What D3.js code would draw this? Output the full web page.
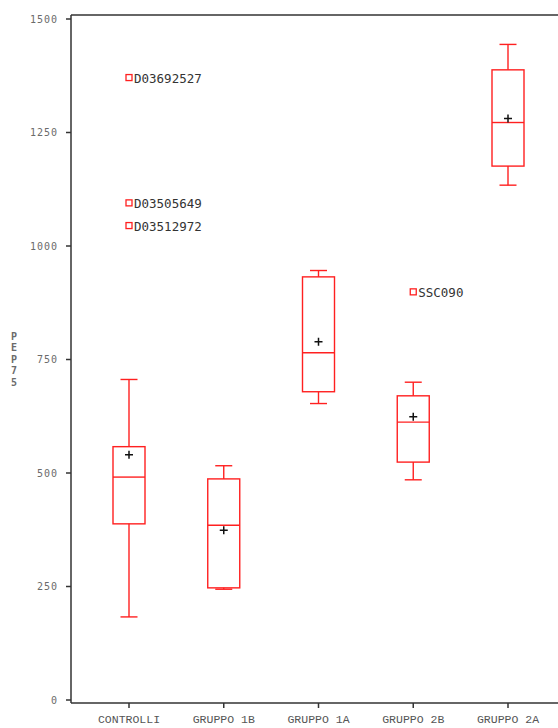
<!DOCTYPE html>
<html>
<head>
<meta charset="utf-8">
<script src="https://cdn.jsdelivr.net/npm/d3@7"></script>
<style>
  body { margin: 0; background: #fff; }
  .tick-label { font-family: "DejaVu Sans Mono", monospace; font-size: 10px; fill: #6b6b6b; letter-spacing: 1px; }
  .cat-label { font-family: "Liberation Mono", monospace; font-size: 11.5px; fill: #555; }
  .out-label { font-family: "DejaVu Sans Mono", monospace; font-size: 12.5px; fill: #333; }
  .ytitle { font-family: "DejaVu Sans Mono", monospace; font-size: 10px; font-weight: bold; fill: #6b6b6b; }
</style>
</head>
<body>
<svg id="chart" width="558" height="728"></svg>
<script>
// data
const groups = ["CONTROLLI", "GRUPPO 1B", "GRUPPO 1A", "GRUPPO 2B", "GRUPPO 2A"];
const whiskerLow = [183, 244, 653, 485, 1134];
const q1 = [388, 247, 679, 524, 1176];
const median = [491, 385, 765, 612, 1272];
const q3 = [558, 487, 932, 670, 1388];
const whiskerHigh = [706, 516, 946, 700, 1444];
const means = [540, 374, 789, 624, 1281];
const outliers = [
  { group: "CONTROLLI", value: 1371, id: "D03692527" },
  { group: "CONTROLLI", value: 1095, id: "D03505649" },
  { group: "CONTROLLI", value: 1045, id: "D03512972" },
  { group: "GRUPPO 2B", value: 899, id: "SSC090" },
];
const yTicks = [0, 250, 500, 750, 1000, 1250, 1500];
const yTitle = "PEP75";

const svg = d3.select("#chart");
const width = +svg.attr("width");
const axisX = 71, axisY = 703, topY = 15;
const red = "#ff2020";

const x = d3.scalePoint().domain(groups).range([129, 508]);
const y = d3.scaleLinear().domain([0, 1500]).range([700, 19]);

// frame
svg.append("line").attr("x1", axisX).attr("x2", width).attr("y1", topY).attr("y2", topY)
  .attr("stroke", "#333").attr("stroke-width", 1.5);
svg.append("line").attr("x1", axisX).attr("x2", axisX).attr("y1", topY).attr("y2", axisY)
  .attr("stroke", "#333").attr("stroke-width", 1.5);
svg.append("line").attr("x1", axisX).attr("x2", width).attr("y1", axisY).attr("y2", axisY)
  .attr("stroke", "#333").attr("stroke-width", 1.5);

// y ticks
const yg = svg.append("g");
yg.selectAll("line").data(yTicks).join("line")
  .attr("x1", axisX - 5).attr("x2", axisX).attr("y1", d => y(d)).attr("y2", d => y(d))
  .attr("stroke", "#333").attr("stroke-width", 1.5);
yg.selectAll("text").data(yTicks).join("text")
  .attr("class", "tick-label")
  .attr("x", 58).attr("y", d => y(d)).attr("dy", "0.35em")
  .attr("text-anchor", "end").text(d => d);

// y title, stacked letters
svg.append("g").selectAll("text").data(yTitle.split("")).join("text")
  .attr("class", "ytitle").attr("x", 14).attr("y", (d, i) => 336 + i * 11.5)
  .attr("dy", "0.35em").attr("text-anchor", "middle").text(d => d);

// x ticks
const xg = svg.append("g");
xg.selectAll("line").data(groups).join("line")
  .attr("x1", d => x(d)).attr("x2", d => x(d)).attr("y1", axisY).attr("y2", axisY + 5)
  .attr("stroke", "#333").attr("stroke-width", 1.5);
xg.selectAll("text").data(groups).join("text")
  .attr("class", "cat-label").attr("x", d => x(d)).attr("y", 719).attr("dy", "0.35em")
  .attr("text-anchor", "middle").text(d => d);

// boxes
const boxW = 32, capW = 17;
const stats = groups.map((g, i) => ({
  g, lo: whiskerLow[i], q1: q1[i], med: median[i], q3: q3[i], hi: whiskerHigh[i], mean: means[i]
}));
const bg = svg.append("g").attr("fill", "none").attr("stroke", red).attr("stroke-width", 1.4);
const box = bg.selectAll("g").data(stats).join("g");
box.append("line").attr("x1", d => x(d.g)).attr("x2", d => x(d.g))
  .attr("y1", d => y(d.hi)).attr("y2", d => y(d.q3));
box.append("line").attr("x1", d => x(d.g)).attr("x2", d => x(d.g))
  .attr("y1", d => y(d.q1)).attr("y2", d => y(d.lo));
box.append("line").attr("x1", d => x(d.g) - capW / 2).attr("x2", d => x(d.g) + capW / 2)
  .attr("y1", d => y(d.hi)).attr("y2", d => y(d.hi));
box.append("line").attr("x1", d => x(d.g) - capW / 2).attr("x2", d => x(d.g) + capW / 2)
  .attr("y1", d => y(d.lo)).attr("y2", d => y(d.lo));
box.append("rect").attr("x", d => x(d.g) - boxW / 2).attr("width", boxW)
  .attr("y", d => y(d.q3)).attr("height", d => y(d.q1) - y(d.q3));
box.append("line").attr("x1", d => x(d.g) - boxW / 2).attr("x2", d => x(d.g) + boxW / 2)
  .attr("y1", d => y(d.med)).attr("y2", d => y(d.med));

// means
const mg = svg.append("g").attr("stroke", "#111").attr("stroke-width", 1.5);
mg.selectAll("path").data(stats).join("path")
  .attr("d", d => `M${x(d.g) - 4},${y(d.mean)}h8M${x(d.g)},${y(d.mean) - 4}v8`);

// outliers
const og = svg.append("g");
og.selectAll("rect").data(outliers).join("rect")
  .attr("x", d => x(d.group) - 3).attr("y", d => y(d.value) - 3)
  .attr("width", 6).attr("height", 6)
  .attr("fill", "none").attr("stroke", red).attr("stroke-width", 1.3);
og.selectAll("text").data(outliers).join("text")
  .attr("class", "out-label").attr("x", d => x(d.group) + 5).attr("y", d => y(d.value) + 1)
  .attr("dy", "0.35em").text(d => d.id);
</script>
</body>
</html>
